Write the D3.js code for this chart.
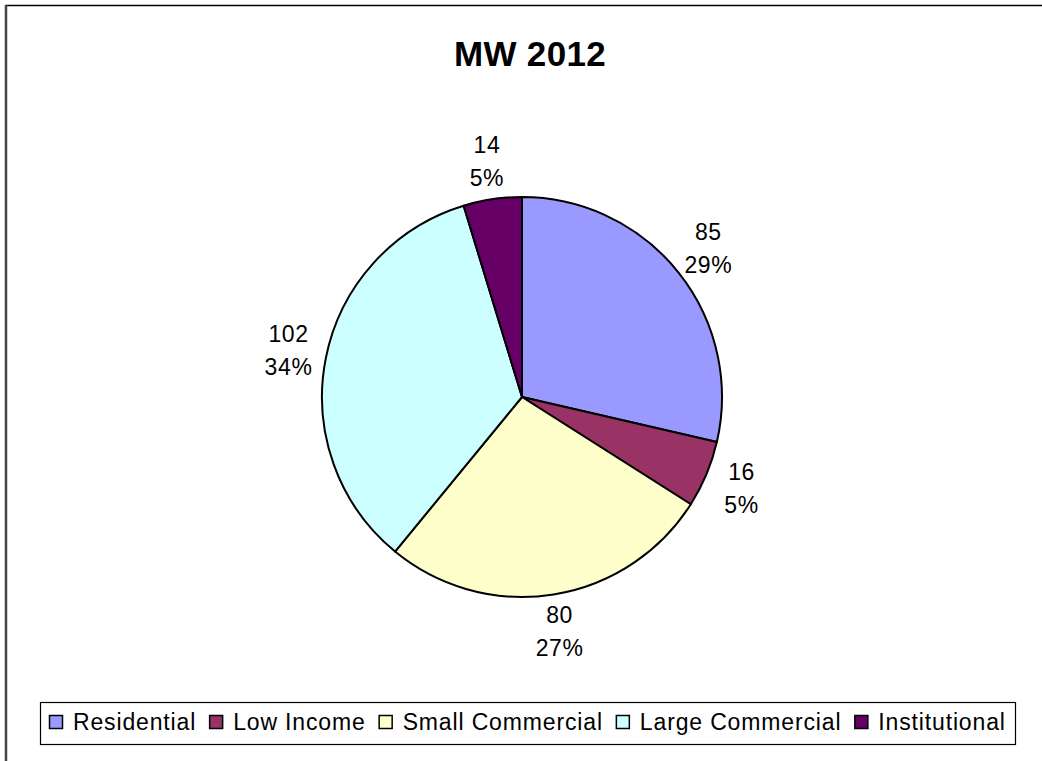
<!DOCTYPE html>
<html>
<head>
<meta charset="utf-8">
<script src="https://cdn.jsdelivr.net/npm/d3@7"></script>
<style>
  body { margin: 0; background: #fff; }
  text { font-family: Arial, "Liberation Sans", sans-serif; fill: #000; }
</style>
</head>
<body>
<svg width="1042" height="761"></svg>
<script>
// data
var categories = ["Residential", "Low Income", "Small Commercial", "Large Commercial", "Institutional"]
var values = [85, 16, 80, 102, 14]
var colors = ["#9999ff", "#993366", "#ffffcc", "#ccffff", "#660066"]
var title = "MW 2012"

var svg = d3.select("svg"),
    width = +svg.attr("width"),
    height = +svg.attr("height")

// chart area border (runs off the right and bottom of the picture)
svg.append("rect")
    .attr("x", 6).attr("y", 5.5)
    .attr("width", 1100).attr("height", 800)
    .attr("fill", "#fff")
    .attr("stroke", "#000").attr("stroke-width", 1.5)
svg.append("line")
    .attr("x1", 6).attr("x2", 6).attr("y1", 5).attr("y2", height)
    .attr("stroke", "#444").attr("stroke-width", 2.5)

svg.append("text")
    .attr("x", 530).attr("y", 66)
    .attr("text-anchor", "middle")
    .style("font-size", "35px").style("font-weight", "bold")
    .style("letter-spacing", "0.3px")
    .text(title)

var cx = 522, cy = 397, r = 200
var total = d3.sum(values)
var color = d3.scaleOrdinal().domain(categories).range(colors)

var pie = d3.pie().sort(null).value(function(d) { return d.value })
var arcs = pie(categories.map(function(c, i) { return {name: c, value: values[i]} }))

var arc = d3.arc().innerRadius(0).outerRadius(r)
var labelArc = d3.arc().innerRadius(238).outerRadius(238)

var g = svg.append("g").attr("transform", "translate(" + cx + "," + cy + ")")

g.selectAll("path")
    .data(arcs)
    .enter().append("path")
      .attr("d", arc)
      .attr("fill", function(d) { return color(d.data.name) })
      .attr("stroke", "#000").attr("stroke-width", 2)
      .attr("stroke-linejoin", "round")

var labels = g.selectAll(".lbl")
    .data(arcs)
    .enter().append("text")
      .attr("class", "lbl")
      .attr("text-anchor", "middle")
      .style("font-size", "23px").style("letter-spacing", "0.6px")
      .attr("transform", function(d) {
        var c = labelArc.centroid(d)
        return "translate(" + c[0] + "," + c[1] + ")"
      })
labels.append("tspan").attr("x", 0).attr("y", -9)
    .text(function(d) { return d.data.value })
labels.append("tspan").attr("x", 0).attr("y", 24)
    .text(function(d) { return Math.round(d.data.value / total * 100) + "%" })

// legend
var legend = svg.append("g")
legend.append("rect")
    .attr("x", 40.5).attr("y", 702.5)
    .attr("width", 975).attr("height", 42)
    .attr("fill", "#fff").attr("stroke", "#000").attr("stroke-width", 1.2)

var lx = 49
categories.forEach(function(c) {
  legend.append("rect")
      .attr("x", lx + 0.5).attr("y", 715.5)
      .attr("width", 13).attr("height", 13)
      .attr("fill", color(c)).attr("stroke", "#000").attr("stroke-width", 1.5)
  var t = legend.append("text")
      .attr("x", lx + 24).attr("y", 730)
      .style("font-size", "23px").style("letter-spacing", "0.85px")
      .text(c)
  lx += 24 + t.node().getComputedTextLength() + 13
})
</script>
</body>
</html>
